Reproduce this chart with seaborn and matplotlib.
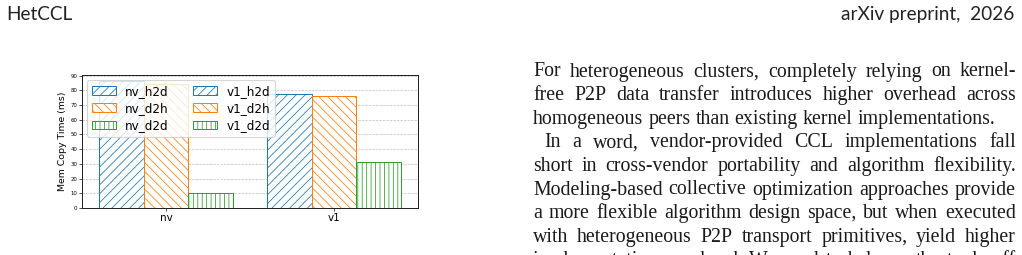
import matplotlib
matplotlib.use("Agg")
import matplotlib.pyplot as plt
from matplotlib.ticker import MultipleLocator
import seaborn as sns
import pandas as pd

# ---------------- data ----------------
platforms = ["nv", "v1"]
kinds = ["h2d", "d2h", "d2d"]
nv_times = [86.1, 84.3, 10.3]
v1_times = [77.2, 75.8, 31.5]
y_label = "Mem Copy Time (ms)"

header_left = "HetCCL"
header_right = "arXiv preprint,  2026"
body_lines = [
    "For heterogeneous clusters, completely relying on kernel-",
    "free P2P data transfer introduces higher overhead across",
    "homogeneous peers than existing kernel implementations.",
    "In a word, vendor-provided CCL implementations fall",
    "short in cross-vendor portability and algorithm flexibility.",
    "Modeling-based collective optimization approaches provide",
    "a more flexible algorithm design space, but when executed",
    "with heterogeneous P2P transport primitives, yield higher",
    "implementation overhead. We need to balance the trade-off",
]

# ---------------- figure ----------------
W, H, DPI = 1022, 255, 80
fig = plt.figure(figsize=(W / DPI, H / DPI), dpi=DPI)
plt.rcParams["hatch.linewidth"] = 0.7

def fx(x):
    return x / W

def fy(y):
    return 1 - y / H

colors = ["#1f77b4", "#ff7f0e", "#2ca02c"]
hatches = ["///", "\\\\\\", "|||"]

rows = []
for k, v in zip(kinds, nv_times):
    rows.append({"platform": "nv", "kind": k, "time": v})
for k, v in zip(kinds, v1_times):
    rows.append({"platform": "v1", "kind": k, "time": v})
df = pd.DataFrame(rows)

ax = fig.add_axes([fx(82), fy(208), (418 - 82) / W, (208 - 75) / H])
sns.barplot(data=df, x="platform", y="time", hue="kind", order=platforms,
            hue_order=kinds, palette=colors, saturation=1, ax=ax,
            legend=False, errorbar=None, width=0.8)

for cont, c, h in zip(ax.containers, colors, hatches):
    for p in cont:
        p.set_facecolor("white")
        p.set_edgecolor(c)
        p.set_hatch(h)
        p.set_linewidth(0.9)
        p.set_zorder(2)

ax.set_axisbelow(True)
ax.yaxis.grid(True, linestyle="--", color="#bbbbbb", linewidth=0.6)
ax.yaxis.set_major_locator(MultipleLocator(10))
ax.set_xlabel("")
ax.set_ylabel(y_label, fontsize=8.4, labelpad=3)
ax.tick_params(axis="y", labelsize=4.8, length=2.5, width=0.6, pad=1.5)
ax.tick_params(axis="x", labelsize=9.3, length=2.5, width=0.6, pad=2)
for s in ax.spines.values():
    s.set_linewidth(0.9)
    s.set_color("#222222")

handles = [cont[0] for cont in ax.containers] + [cont[1] for cont in ax.containers]
labels = [f"nv_{k}" for k in kinds] + [f"v1_{k}" for k in kinds]
ax.legend(handles, labels, loc="upper left", ncol=2, fontsize=10.8,
          borderaxespad=0.4, handlelength=2.0, labelspacing=0.35,
          columnspacing=2.0, borderpad=0.4)

# ---------------- page text ----------------
renderer = fig.canvas.get_renderer()

def width_of(s, family, size):
    t = fig.text(0, 0, s, family=family, fontsize=size)
    w = t.get_window_extent(renderer).width
    t.remove()
    return w

sans = ["Lato", "DejaVu Sans"]
serif = ["Liberation Serif", "DejaVu Serif"]

# header
hs = 10 * 66 / width_of(header_left, sans, 10)
fig.text(fx(6), fy(20), header_left, family=sans, fontsize=hs, va="baseline",
         color="#222222")
fig.text(fx(1014), fy(20), header_right, family=sans, fontsize=hs,
         va="baseline", ha="right", color="#222222")

# body: size so that the longest line fits the column with normal spacing
left, right = 533, 1016
indent = 11
longest = max(width_of(l, serif, 10) for l in body_lines)
bs = 10 * (right - left - 6) / longest
base0, step = 76.5, 23.6
for i, line in enumerate(body_lines):
    y = base0 + i * step
    x0 = left + (indent if i == 3 else 0)
    words = line.split(" ")
    ws = [width_of(w, serif, bs) for w in words]
    if i == 2:
        gap = width_of("a a", serif, bs) - 2 * width_of("a", serif, bs)
    else:
        gap = (right - x0 - sum(ws)) / (len(words) - 1)
    x = x0
    for w, wd in zip(words, ws):
        fig.text(fx(x), fy(y), w, family=serif, fontsize=bs, va="baseline",
                 color="#1a1a1a")
        x += wd + gap

fig.savefig("out.png", dpi=DPI)
